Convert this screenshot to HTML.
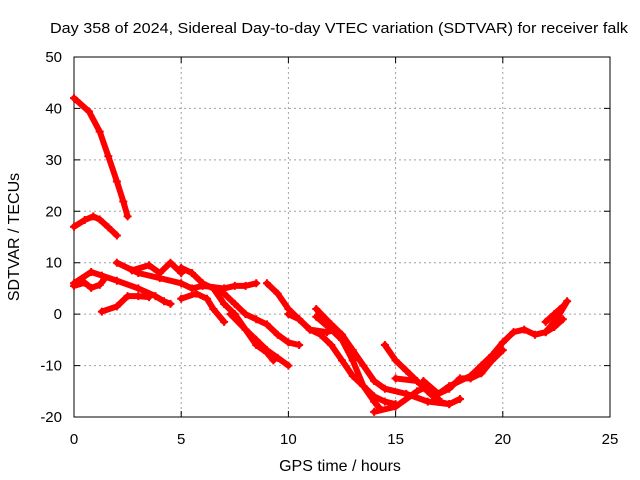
<!DOCTYPE html>
<html><head><meta charset="utf-8"><style>
body{margin:0;background:#fff}
svg{display:block;font-family:"Liberation Sans",sans-serif}
</style></head><body>
<svg id="chart" width="640" height="480">
<text x="50" y="33" font-size="15" textLength="578" lengthAdjust="spacingAndGlyphs">Day 358 of 2024, Sidereal Day-to-day VTEC variation (SDTVAR) for receiver falk</text>
<text x="340" y="471" font-size="16" text-anchor="middle">GPS time / hours</text>
<text transform="translate(19,237) rotate(-90)" font-size="16" text-anchor="middle">SDTVAR / TECUs</text>
<g id="grid"></g><g id="ticks"></g><g id="series"></g>
</svg>
<script>
const xTicks=[0,5,10,15,20,25];
const yTicks=[-20,-10,0,10,20,30,40,50];
const trace1=[[0,42],[0.7,39.4],[1.2,35.5],[1.6,30.7],[2,25.8],[2.3,21.9],[2.5,19]];
const trace2=[[0,17],[0.5,18.3],[0.9,19],[1.2,18.4],[1.6,16.9],[2,15.3]];
const trace3=[[0,5.5],[0.5,6.1],[0.8,5.1],[1.2,5.7],[1.4,6.7]];
const trace4=[[0,6],[0.8,8.2],[1.3,7.5],[2,6.5],[3,5],[3.8,3.5],[4.2,2.5],[4.5,2]];
const trace5=[[1.3,0.5],[2,1.5],[2.5,3.5],[3,3.5],[3.5,3.3]];
const trace6=[[2,10],[3,8],[4,7],[5,6],[5.5,5],[6,5.5],[7,5],[7.5,5.5],[8,5.5],[8.5,6]];
const trace7=[[2.7,8.5],[3.5,9.5],[4,8],[4.5,10],[5,8]];
const trace8=[[5,3],[5.7,4],[6.2,3],[6.5,1],[7,-1.5]];
const trace9=[[5,9],[5.5,8],[6,6],[6.5,5],[7,4],[7.5,2],[8,0],[8.5,-1],[9,-2],[9.5,-4],[10,-5.5],[10.5,-6]];
const trace10=[[6.5,5],[7,2],[7.5,0],[8,-3],[8.5,-5],[9,-7],[9.5,-8.5],[10,-10]];
const trace11=[[7.3,0],[8,-3],[8.5,-6],[9,-7.5],[9.3,-9]];
const trace12=[[9,6],[9.5,4],[10,1],[10.5,-1],[11,-3],[11.5,-4],[12,-6],[12.5,-9],[13,-12],[13.5,-14],[14,-16],[14.5,-17],[15,-17.5]];
const trace13=[[10,0],[10.5,-1],[11,-3],[11.8,-3.5],[12.2,-3]];
const trace14=[[11.3,1],[12,-2],[12.5,-4],[13,-7],[13.5,-10],[14,-13],[14.5,-14.5],[15.5,-15.5],[16.5,-17],[17.5,-17.5]];
const trace15=[[11.3,-0.5],[12,-3],[12.5,-5],[13,-9],[13.5,-14],[14,-17],[14.2,-18]];
const trace16=[[14.5,-6],[15,-9],[15.5,-11],[16,-13],[16.5,-15],[17,-16.5]];
const trace17=[[14,-19],[15,-18],[16,-15],[16.5,-14],[17,-15.5],[17.5,-14],[18.5,-12],[19,-10],[19.5,-8],[20,-5.5],[20.5,-3.5],[21,-3],[21.5,-4],[22,-3.5],[22.5,-1],[23,2.5]];
const trace18=[[15,-12.5],[16,-13],[16.5,-15],[17,-17],[17.5,-17.5],[18,-16.5]];
const trace19=[[16.3,-13],[17,-15.5],[17.5,-14.5],[18,-12.5],[18.5,-12.5],[19,-11.5],[19.5,-9],[20,-7]];
const trace20=[[22,-1.5],[22.4,0],[22.8,1.5]];
const trace21=[[22.8,-1],[22.4,-2.5],[22,-3.5]];
const traces=[trace1,trace2,trace3,trace4,trace5,trace6,trace7,trace8,trace9,trace10,trace11,trace12,trace13,trace14,trace15,trace16,trace17,trace18,trace19,trace20,trace21];

const X0=74,X1=610,Y0=417,Y1=57;
const sx=v=>X0+(v-0)/25*(X1-X0);
const sy=v=>Y0-(v+20)/70*(Y0-Y1);
const NS="http://www.w3.org/2000/svg";
function mk(tag,attrs,parent){const e=document.createElementNS(NS,tag);for(const k in attrs)e.setAttribute(k,attrs[k]);parent.appendChild(e);return e;}
const grid=document.getElementById('grid'),ticks=document.getElementById('ticks'),ser=document.getElementById('series');
xTicks.forEach(t=>{
  const x=sx(t);
  if(t>0&&t<25){const g=mk('line',{x1:x,x2:x,y1:Y1,y2:Y0,stroke:'#a0a0a0','stroke-dasharray':'2,3'},grid);
  
  }
  const tk=mk('path',{d:`M${x},${Y0}v-6M${x},${Y1}v6`,stroke:'#000'},ticks);
  
  
  const l=mk('text',{x:x,y:Y0+27,'font-size':15,'text-anchor':'middle'},ticks);l.textContent=t;
  
  
});
yTicks.forEach(t=>{
  const y=sy(t);
  if(t>-20&&t<50){const g=mk('line',{x1:X0,x2:X1,y1:y,y2:y,stroke:'#a0a0a0','stroke-dasharray':'2,3'},grid);
  
  }
  const tk=mk('path',{d:`M${X0},${y}h6M${X1},${y}h-6`,stroke:'#000'},ticks);
  
  
  const l=mk('text',{x:X0-12,y:y+5,'font-size':15,'text-anchor':'end'},ticks);l.textContent=t;
  
  
});
const box=mk('rect',{x:X0,y:Y1,width:X1-X0,height:Y0-Y1,fill:'none',stroke:'#000'},ticks);


traces.forEach((tr,i)=>{
  const p=mk('polyline',{points:tr.map(d=>sx(d[0])+','+sy(d[1])).join(' '),fill:'none',stroke:'#ff0000','stroke-width':6,'stroke-linejoin':'round','stroke-linecap':'round'},ser);
  
  
  tr.forEach(d=>{
    const m=mk('path',{d:`M${sx(d[0])-4},${sy(d[1])}h8M${sx(d[0])},${sy(d[1])-4}v8`,stroke:'#ff0000','stroke-width':2},ser);
    
    
  });
});
</script>
</body></html>
